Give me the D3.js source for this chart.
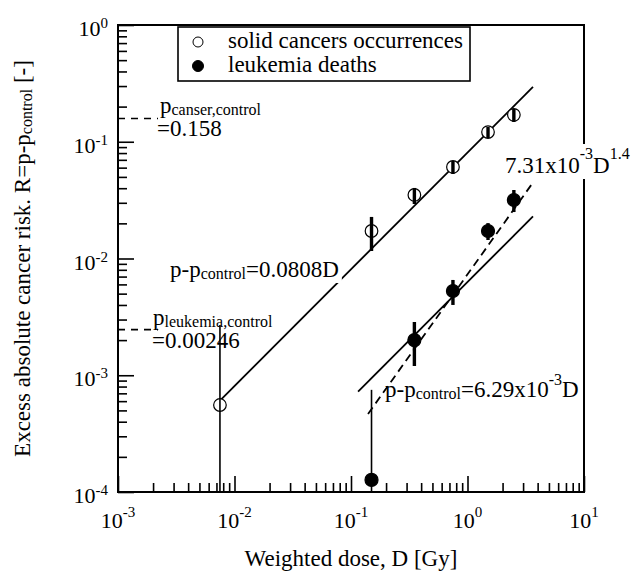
<!DOCTYPE html>
<html><head><meta charset="utf-8">
<script src="https://cdn.jsdelivr.net/npm/d3@7"></script>
<style>
html,body{margin:0;padding:0;background:#fff;}
svg{display:block;font-family:"Liberation Serif","Times New Roman",serif;}
</style></head><body>
<svg id="chart" width="631" height="572"></svg>
<script>
// Dose groups [Gy] and excess absolute risk R = p - p_control
const solidDose     = [0.0075, 0.15, 0.35, 0.75, 1.5, 2.5];
const solidRisk     = [5.56e-4, 0.0172, 0.035, 0.0608, 0.121, 0.17];
const solidErrLow   = [null, 0.0116, 0.0293, 0.053, 0.1076, 0.1476];   // null: bar runs below the axis
const solidErrHigh  = [0.00269, 0.0227, 0.0402, 0.0684, 0.1337, 0.191];

const leukDose      = [0.15, 0.35, 0.75, 1.5, 2.5];
const leukRisk      = [1.27e-4, 0.0020, 0.00527, 0.0172, 0.0317];
const leukErrLow    = [null, 0.0012, 0.0040, 0.0144, 0.025];
const leukErrHigh   = [7.5e-4, 0.00286, 0.00655, 0.0201, 0.0386];

// Fitted models
const solidSlope = 0.0808;          // p - p_control = a D
const leukSlope = 6.29e-3;          // p - p_control = b D
const leukCoef = 7.31e-3, leukPower = 1.4;   // c D^k
const solidFitRange = [0.0075, 3.65];
const leukFitRange  = [0.115, 3.65];
const leukPowRange  = [0.14, 3.65];

// Control (background) probabilities
const pCancerControl = 0.158;
const pLeukControl = 0.00246;

// Axis decades
const xTickExps = [-3, -2, -1, 0, 1];
const yTickExps = [-4, -3, -2, -1, 0];

const legendLabels = ["solid cancers occurrences", "leukemia deaths"];

const svg = d3.select("#chart");
const L = 118, R = 584, T = 25, B = 492;

const x = d3.scaleLog().domain([1e-3, 1e1]).range([L, R]);
const y = d3.scaleLog().domain([1e-4, 1]).range([B, T]);

// ---- ticks (minor and major, drawn inward) ----
function decadeTicks(exps) {
  const minor = [], major = [];
  exps.forEach((e, i) => {
    major.push(Math.pow(10, e));
    if (i < exps.length - 1) for (let m = 2; m <= 9; m++) minor.push(m * Math.pow(10, e));
  });
  return {minor, major};
}
const xt = decadeTicks(xTickExps), yt = decadeTicks(yTickExps);

const axG = svg.append("g").attr("stroke-width", 1.6);
axG.append("g").attr("transform", `translate(0,${B})`)
  .call(d3.axisBottom(x).tickValues(xt.minor).tickSizeInner(-9).tickSizeOuter(0).tickFormat(""));
axG.append("g").attr("transform", `translate(0,${B})`)
  .call(d3.axisBottom(x).tickValues(xt.major).tickSizeInner(-16).tickSizeOuter(0).tickFormat(""));
axG.append("g").attr("transform", `translate(${L},0)`)
  .call(d3.axisLeft(y).tickValues(yt.minor).tickSizeInner(-9).tickSizeOuter(0).tickFormat(""));
axG.append("g").attr("transform", `translate(${L},0)`)
  .call(d3.axisLeft(y).tickValues(yt.major).tickSizeInner(-16).tickSizeOuter(0).tickFormat(""));
axG.selectAll(".domain").remove();
axG.selectAll(".tick line").attr("stroke", "#000").attr("stroke-width", 1.6);

// frame
svg.append("rect").attr("x", L).attr("y", T).attr("width", R - L).attr("height", B - T)
  .attr("fill", "none").attr("stroke", "#000").attr("stroke-width", 2);

// tick labels 10^n
function powLabel(g, px, py, exp, anchor, supDy) {
  const t = g.append("text").attr("x", px).attr("y", py).attr("text-anchor", anchor)
    .attr("font-size", 22).attr("fill", "#000");
  t.append("tspan").text("10");
  t.append("tspan").attr("font-size", 15).attr("dy", -supDy).text(String(exp));
  return t;
}
const labG = svg.append("g");
xTickExps.forEach(e => powLabel(labG, x(Math.pow(10, e)), 528, e, "middle", 11));
yTickExps.forEach(e => powLabel(labG, 108, y(Math.pow(10, e)) + 11, e, "end", 8));

// axis titles
svg.append("text").attr("x", (L + R) / 2).attr("y", 566).attr("text-anchor", "middle")
  .attr("font-size", 23).text("Weighted dose, D [Gy]");
const yt1 = svg.append("text").attr("transform", `translate(30,${(T + B) / 2}) rotate(-90)`)
  .attr("text-anchor", "middle").attr("font-size", 23);
yt1.append("tspan").text("Excess absolute cancer risk. R=p-p");
yt1.append("tspan").attr("font-size", 16).attr("dy", 2).text("control");
yt1.append("tspan").attr("dy", -2).text(" [-]");

// ---- control level markers (short dashed lines from the axis) ----
[pCancerControl, pLeukControl].forEach(p => {
  svg.append("line").attr("x1", L).attr("x2", 158).attr("y1", y(p)).attr("y2", y(p))
    .attr("stroke", "#000").attr("stroke-width", 1.6).attr("stroke-dasharray", "7,6");
});

// ---- fitted lines ----
const line = d3.line().x(d => x(d[0])).y(d => y(d[1]));
function fitPts(range, f) { return range.map(d => [d, f(d)]); }
svg.append("path").attr("d", line(fitPts(solidFitRange, d => solidSlope * d)))
  .attr("fill", "none").attr("stroke", "#000").attr("stroke-width", 1.8);
svg.append("path").attr("d", line(fitPts(leukFitRange, d => leukSlope * d)))
  .attr("fill", "none").attr("stroke", "#000").attr("stroke-width", 1.8);
svg.append("path").attr("d", line(fitPts(leukPowRange, d => leukCoef * Math.pow(d, leukPower))))
  .attr("fill", "none").attr("stroke", "#000").attr("stroke-width", 1.8).attr("stroke-dasharray", "8,5");

// ---- data points with error bars ----
const yMin = y.domain()[0];
function drawSeries(dose, risk, lo, hi, filled) {
  const g = svg.append("g");
  g.selectAll("circle").data(dose).join("circle")
    .attr("cx", d => x(d)).attr("cy", (d, i) => y(risk[i])).attr("r", filled ? 6.5 : 6.3)
    .attr("fill", filled ? "#000" : "#fff").attr("stroke", "#000").attr("stroke-width", 1.2);
  g.selectAll("line").data(dose).join("line")
    .attr("x1", d => x(d)).attr("x2", d => x(d))
    .attr("y1", (d, i) => y(hi[i])).attr("y2", (d, i) => y(lo[i] == null ? yMin : lo[i]))
    .attr("stroke", "#000").attr("stroke-width", (d, i) => lo[i] == null ? 1.6 : 3.4);
}
drawSeries(solidDose, solidRisk, solidErrLow, solidErrHigh, false);
drawSeries(leukDose, leukRisk, leukErrLow, leukErrHigh, true);

// ---- annotations ----
function richText(px, py, parts, opts = {}) {
  const g = svg.append("g");
  const t = g.append("text").attr("x", px).attr("y", py).attr("font-size", 23).attr("fill", "#000");
  let shift = 0;
  parts.forEach(p => {
    const s = t.append("tspan").text(p.t);
    let target = 0;
    if (p.sub) { s.attr("font-size", 16); target = 2; }
    if (p.sup) { s.attr("font-size", 16); target = -p.sup; }
    s.attr("dy", target - shift);
    shift = target;
  });
  if (opts.bg) {
    const b = t.node().getBBox();
    g.insert("rect", "text").attr("x", b.x - 1).attr("y", b.y - 1)
      .attr("width", b.width + 4).attr("height", b.height + 2).attr("fill", "#fff");
  }
  return t;
}
const mant = v => (v / 1e-3).toFixed(2);

richText(160, 113, [{t: "p"}, {t: "canser,control", sub: true}]);
richText(157, 136, [{t: "=" + pCancerControl}]);
richText(153, 325, [{t: "p"}, {t: "leukemia,control", sub: true}]);
richText(152, 348, [{t: "=" + pLeukControl}]);
richText(170, 277, [{t: "p-p"}, {t: "control", sub: true}, {t: "=" + solidSlope + "D"}], {bg: true});
richText(385, 397, [{t: "p-p"}, {t: "control", sub: true}, {t: "=" + mant(leukSlope) + "x10"},
                    {t: "-3", sup: 12}, {t: "D"}]);
richText(505, 173, [{t: mant(leukCoef) + "x10"}, {t: "-3", sup: 14}, {t: "D"}, {t: String(leukPower), sup: 14}], {bg: true});

// ---- legend ----
const lg = svg.append("g");
lg.append("rect").attr("x", 178).attr("y", 27).attr("width", 292).attr("height", 54)
  .attr("fill", "#fff").attr("stroke", "#000").attr("stroke-width", 1.6);
legendLabels.forEach((lab, i) => {
  const by = 48 + i * 24;
  lg.append("circle").attr("cx", 198).attr("cy", by - 6).attr("r", i === 0 ? 5 : 5.5)
    .attr("fill", i === 0 ? "#fff" : "#000").attr("stroke", "#000").attr("stroke-width", 1);
  lg.append("text").attr("x", 228).attr("y", by).attr("font-size", 23).text(lab);
});
</script>
</body></html>
